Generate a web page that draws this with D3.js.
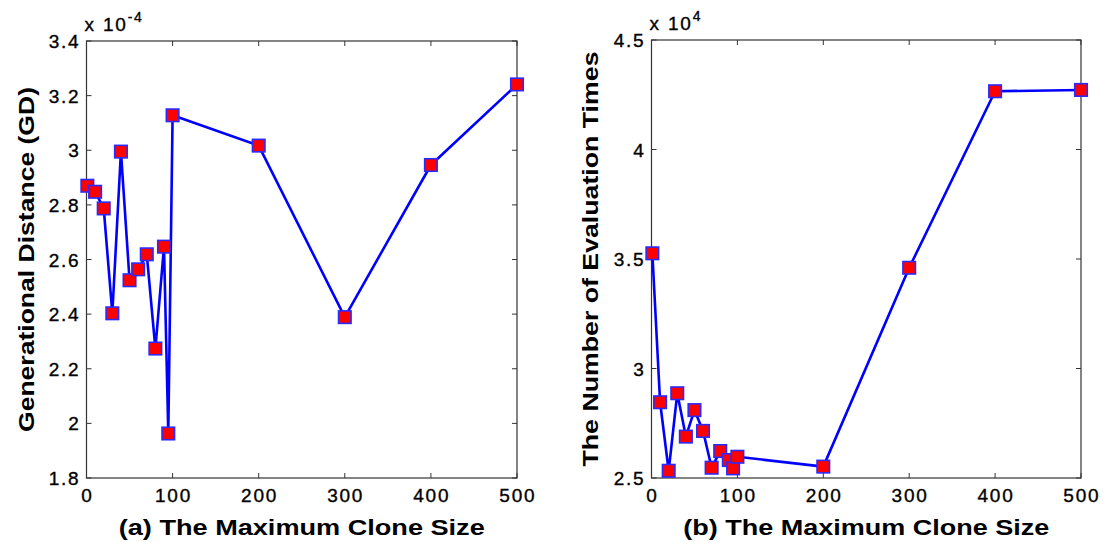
<!DOCTYPE html>
<html>
<head>
<meta charset="utf-8">
<script src="https://cdn.jsdelivr.net/npm/d3@7"></script>
<style>
  html, body { margin: 0; padding: 0; background: #fff; }
  svg { display: block; }
  .tick-label { font-family: "Liberation Sans", Arial, sans-serif; font-size: 19px; letter-spacing: 1.8px; fill: #000; stroke: #000; stroke-width: 0.35px; }
  .axis-title { font-family: "Liberation Sans", Arial, sans-serif; font-size: 22px; font-weight: bold; fill: #000; }
</style>
</head>
<body>
<svg id="chart" width="1105" height="542"></svg>
<script>
// Maximum clone size settings tested
const cloneSizes = [1, 10, 20, 30, 40, 50, 60, 70, 80, 90, 95, 100, 200, 300, 400, 500];
// Generational distance, in units of 1e-4
const gdValues = [2.870, 2.848, 2.787, 2.403, 2.995, 2.524, 2.564, 2.619, 2.274, 2.647, 1.963, 3.128, 3.017, 2.389, 2.946, 3.241];
// Number of evaluations, in units of 1e4
const evalValues = [3.526, 2.846, 2.533, 2.887, 2.689, 2.810, 2.715, 2.547, 2.623, 2.582, 2.544, 2.597, 2.552, 3.460, 4.266, 4.272];

const xTicks = [0, 100, 200, 300, 400, 500];
const gdTicks = [1.8, 2, 2.2, 2.4, 2.6, 2.8, 3, 3.2, 3.4];
const evalTicks = [2.5, 3, 3.5, 4, 4.5];

const svg = d3.select("#chart");

function panel(opts) {
  const { left, right, top, bottom, yDomain, yTicks, values, yTitle, xTitle, exponent,
          yTitleX, yTitleLen, xTitleLen } = opts;
  const x = d3.scaleLinear().domain([0, 500]).range([left, right]);
  const y = d3.scaleLinear().domain(yDomain).range([bottom, top]);
  const g = svg.append("g");
  const axisColor = "#333";
  const tickLen = 5;

  // box
  g.append("rect")
    .attr("x", left).attr("y", top)
    .attr("width", right - left).attr("height", bottom - top)
    .attr("fill", "none").attr("stroke", axisColor).attr("stroke-width", 1.2);

  // inward ticks on all four sides
  xTicks.forEach(t => {
    const px = x(t);
    g.append("line").attr("x1", px).attr("x2", px).attr("y1", bottom).attr("y2", bottom - tickLen)
      .attr("stroke", axisColor);
    g.append("line").attr("x1", px).attr("x2", px).attr("y1", top).attr("y2", top + tickLen)
      .attr("stroke", axisColor);
    g.append("text").attr("class", "tick-label")
      .attr("x", px + 0.9).attr("y", bottom + 24)
      .attr("text-anchor", "middle").text(t);
  });
  yTicks.forEach(t => {
    const py = y(t);
    g.append("line").attr("x1", left).attr("x2", left + tickLen).attr("y1", py).attr("y2", py)
      .attr("stroke", axisColor);
    g.append("line").attr("x1", right).attr("x2", right - tickLen).attr("y1", py).attr("y2", py)
      .attr("stroke", axisColor);
    g.append("text").attr("class", "tick-label")
      .attr("x", left - 6).attr("y", py + 7)
      .attr("text-anchor", "end").text(d3.format("~g")(t));
  });

  // exponent label
  const exp = g.append("text").attr("class", "tick-label")
    .attr("x", left - 2).attr("y", top - 10);
  exp.append("tspan").text("x 10");
  exp.append("tspan").attr("dy", -9).style("font-size", "14px").text(exponent);

  // series
  const pts = cloneSizes.map((c, i) => [x(c), y(values[i])]);
  g.append("path")
    .attr("d", d3.line()(pts))
    .attr("fill", "none").attr("stroke", "#0000ff").attr("stroke-width", 2.6)
    .attr("stroke-linejoin", "round");
  const m = 12.5;
  g.selectAll("rect.marker").data(pts).enter().append("rect")
    .attr("class", "marker")
    .attr("x", d => d[0] - m / 2).attr("y", d => d[1] - m / 2)
    .attr("width", m).attr("height", m)
    .attr("fill", "#ff0000").attr("stroke", "#2a2aff").attr("stroke-width", 1.6);

  // axis titles
  g.append("text").attr("class", "axis-title")
    .attr("x", (left + right) / 2).attr("y", bottom + 57)
    .attr("text-anchor", "middle")
    .attr("textLength", xTitleLen).attr("lengthAdjust", "spacingAndGlyphs")
    .text(xTitle);
  g.append("text").attr("class", "axis-title")
    .attr("transform", `translate(${yTitleX},${(top + bottom) / 2}) rotate(-90)`)
    .attr("text-anchor", "middle")
    .attr("textLength", yTitleLen).attr("lengthAdjust", "spacingAndGlyphs")
    .text(yTitle);
}

panel({
  left: 86.5, right: 517, top: 41, bottom: 478,
  yDomain: [1.8, 3.4], yTicks: gdTicks, values: gdValues,
  yTitle: "Generational Distance (GD)", xTitle: "(a) The Maximum Clone Size",
  exponent: "-4", yTitleX: 34, yTitleLen: 345, xTitleLen: 366
});
panel({
  left: 651.5, right: 1081, top: 40, bottom: 478,
  yDomain: [2.5, 4.5], yTicks: evalTicks, values: evalValues,
  yTitle: "The Number of Evaluation Times", xTitle: "(b) The Maximum Clone Size",
  exponent: "4", yTitleX: 598, yTitleLen: 415, xTitleLen: 366
});
</script>
</body>
</html>
